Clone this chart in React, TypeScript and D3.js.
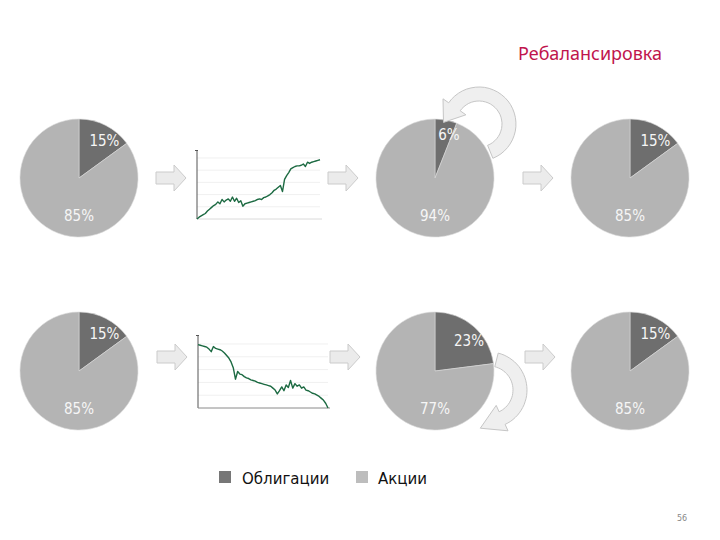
import React from "react";
import * as d3 from "d3";

// доли в портфеле: [облигации, акции]
const assetClasses = ["Облигации", "Акции"];
const topRowShares = [[15, 85], [6, 94], [15, 85]];
const bottomRowShares = [[15, 85], [23, 77], [15, 85]];
const pieColors = ["#6e6e6e", "#b4b4b4"];

// индекс акций (0..100), рост и падение
const stockGrowth = [
  0, 3, 5, 7, 9, 13, 16, 19, 22, 24, 28, 25, 32, 28, 31, 33, 29, 36, 29, 34,
  27, 30, 21, 25, 26, 27, 28, 29, 30, 32, 33, 32, 35, 36, 38, 40, 43, 47, 49, 52,
  55, 45, 65, 71, 76, 82, 84, 86, 87, 87, 88, 90, 86, 93, 91, 93, 94, 95, 96, 97,
];
const stockDecline = [
  99, 98, 97, 96, 95, 92, 88, 96, 93, 92, 91, 89, 86, 82, 78, 72, 63, 45, 57, 53,
  52, 49, 47, 46, 44, 43, 42, 40, 39, 38, 37, 36, 35, 34, 31, 28, 22, 27, 33, 27,
  36, 32, 43, 31, 38, 34, 36, 31, 33, 28, 27, 25, 23, 22, 20, 18, 15, 12, 7, 0,
];

const R = 59;
const labelFont = "'Liberation Sans Narrow', 'DejaVu Sans Condensed', sans-serif";

function Pie({ cx, cy, shares }: { cx: number; cy: number; shares: number[] }) {
  const arcs = d3.pie<number>().sort(null)(shares);
  const arc = d3.arc<d3.PieArcDatum<number>>().innerRadius(0).outerRadius(R);
  const deg = Math.PI / 180;
  return (
    <g transform={`translate(${cx},${cy})`}>
      {arcs.map((a, i) => (
        <path key={i} d={arc(a) || ""} fill={pieColors[i]} stroke="#d8d8d8" strokeWidth={0.6} />
      ))}
      {arcs.map((a, i) => {
        // тёмная доля — у центра сектора, светлая — снизу
        const ang = i === 0 ? (a.startAngle + a.endAngle) / 2 + 7 * deg : Math.PI;
        const r = i === 0 ? 0.77 * R : 0.63 * R;
        return (
          <text key={"t" + i} x={r * Math.sin(ang)} y={-r * Math.cos(ang)} dy="0.36em"
            textAnchor="middle" fontFamily={labelFont} fontSize={15} fill="#f6f6f6">
            {a.data}%
          </text>
        );
      })}
    </g>
  );
}

function BlockArrow({ x, cy }: { x: number; cy: number }) {
  const pts = [[0, -6], [18, -6], [18, -13], [30, 0], [18, 13], [18, 6], [0, 6]];
  return (
    <path d={"M" + pts.map(p => `${x + p[0]},${cy + p[1]}`).join("L") + "Z"}
      fill="#ebebeb" stroke="#cbcbcb" strokeWidth={1} />
  );
}

function curvedArrowPath(cx: number, cy: number, r0: number, r1: number,
  a0d: number, a1d: number, headW: number, headLen: number) {
  const a0 = a0d * Math.PI / 180, a1 = a1d * Math.PI / 180;
  const pt = (r: number, a: number) => [cx + r * Math.sin(a), cy - r * Math.cos(a)];
  const n = 30;
  const angs = d3.range(n + 1).map(i => a0 + (a1 - a0) * i / n);
  const outer = angs.map(a => pt(r1, a));
  const inner = angs.map(a => pt(r0, a)).reverse();
  const dir = Math.sign(a1 - a0);
  const P = pt((r0 + r1) / 2, a1);
  const t = [dir * Math.cos(a1), dir * Math.sin(a1)];
  const rad = [Math.sin(a1), -Math.cos(a1)];
  const head = [
    [P[0] + rad[0] * headW, P[1] + rad[1] * headW],
    [P[0] + t[0] * headLen, P[1] + t[1] * headLen],
    [P[0] - rad[0] * headW, P[1] - rad[1] * headW],
  ];
  const all = [...outer, ...head, ...inner];
  return "M" + all.map(p => `${p[0].toFixed(1)},${p[1].toFixed(1)}`).join("L") + "Z";
}

function MiniLine({ values, left, right, top, bottom, yMax, axisX }: {
  values: number[]; left: number; right: number; top: number; bottom: number; yMax: number; axisX: string;
}) {
  const x = d3.scaleLinear().domain([0, values.length - 1]).range([left, right]);
  const y = d3.scaleLinear().domain([0, yMax]).range([bottom, top]);
  const line = d3.line<number>().x((_, i) => x(i)).y(d => y(d));
  return (
    <g>
      {y.ticks(5).filter(v => v > 0).map(v => (
        <line key={v} x1={left} x2={right} y1={y(v)} y2={y(v)} stroke="#f0f0f0" strokeWidth={1} />
      ))}
      <line x1={left} x2={left} y1={top} y2={bottom} stroke="#555" strokeWidth={1} />
      <line x1={left - 2} x2={left + 1} y1={top + 0.5} y2={top + 0.5} stroke="#555" strokeWidth={1} />
      <line x1={left} x2={right + 2} y1={bottom} y2={bottom} stroke={axisX} strokeWidth={1} />
      <path d={line(values) || ""} fill="none" stroke="#1c6a42" strokeWidth={1.4} strokeLinejoin="round" />
    </g>
  );
}

export default function App() {
  const pieX = [79, 435, 630];
  const rowY = [178, 371];
  return (
    <svg width={720} height={540} style={{ position: "absolute", left: 0, top: 0, background: "#fff" }}>
      <text x={518} y={60} fontFamily="'Noto Sans', 'Open Sans', sans-serif" fontSize={18} fill="#c0154d">
        Ребалансировка
      </text>

      {topRowShares.map((s, i) => <Pie key={"a" + i} cx={pieX[i]} cy={rowY[0]} shares={s} />)}
      {bottomRowShares.map((s, i) => <Pie key={"b" + i} cx={pieX[i]} cy={rowY[1]} shares={s} />)}

      <BlockArrow x={156} cy={178} />
      <BlockArrow x={328} cy={178} />
      <BlockArrow x={523} cy={178} />
      <BlockArrow x={157} cy={357} />
      <BlockArrow x={330} cy={357} />
      <BlockArrow x={525} cy={357} />

      <path d={curvedArrowPath(479, 124, 23, 37, 158, -55, 14, 19)} fill="#efefef" stroke="#c6c6c6" strokeWidth={1} />
      <path d={curvedArrowPath(489, 390, 24, 38, 14, 155, 14, 24)} fill="#efefef" stroke="#c6c6c6" strokeWidth={1} />

      <MiniLine values={stockGrowth} left={197} right={320} top={150} bottom={219} yMax={113} axisX="#dadada" />
      <MiniLine values={stockDecline} left={198} right={328} top={335} bottom={408} yMax={114} axisX="#8a8a8a" />

      <rect x={219} y={471} width={12} height={12} fill="#777" />
      <text x={242} y={484} fontFamily="'DejaVu Sans', sans-serif" fontSize={15} fill="#111">{assetClasses[0]}</text>
      <rect x={356} y={471} width={12} height={12} fill="#bdbdbd" />
      <text x={378} y={484} fontFamily="'DejaVu Sans', sans-serif" fontSize={15} fill="#111">{assetClasses[1]}</text>

      <text x={677} y={521} fontFamily="'DejaVu Sans', sans-serif" fontSize={8} fill="#888">56</text>
    </svg>
  );
}
